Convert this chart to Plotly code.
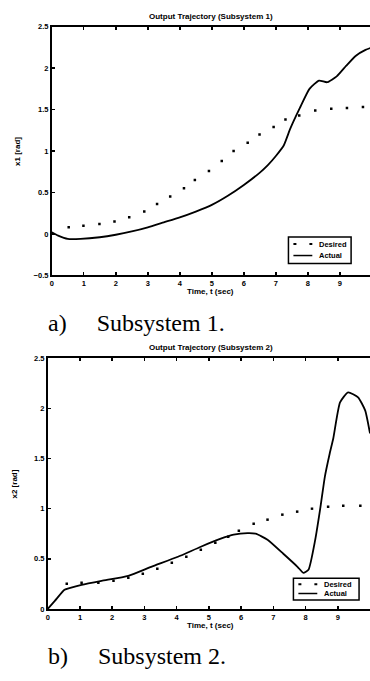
import plotly.graph_objects as go

# ---------------- data ----------------
t1_desired = [0.53, 0.99, 1.49, 1.96, 2.42, 2.89, 3.29, 3.70, 4.13, 4.47, 4.91, 5.31,
              5.68, 6.12, 6.49, 6.93, 7.30, 7.73, 8.23, 8.73, 9.22, 9.72]
x1_desired = [0.08, 0.10, 0.12, 0.15, 0.20, 0.27, 0.36, 0.45, 0.55, 0.65, 0.76, 0.88,
              1.00, 1.10, 1.20, 1.29, 1.38, 1.43, 1.49, 1.51, 1.52, 1.53]

t1_actual = [0, 0.2, 0.5, 0.9, 1.5, 2.0, 2.5, 3.0, 3.5, 4.0, 4.5, 5.0, 5.5, 6.0, 6.5,
             6.75, 7.0, 7.25, 7.45, 7.75, 8.05, 8.35, 8.6, 8.9, 9.2, 9.5, 9.8, 10]
x1_actual = [0.02, -0.02, -0.06, -0.06, -0.04, -0.01, 0.03, 0.08, 0.14, 0.20, 0.27, 0.35,
             0.46, 0.59, 0.74, 0.83, 0.94, 1.07, 1.27, 1.52, 1.75, 1.85, 1.83, 1.90, 2.03,
             2.15, 2.22, 2.25]

t2_desired = [0.59, 1.05, 1.57, 2.04, 2.50, 2.95, 3.40, 3.85, 4.30, 4.75, 5.20, 5.60,
              5.93, 6.39, 6.82, 7.28, 7.74, 8.20, 8.70, 9.17, 9.70]
x2_desired = [0.25, 0.26, 0.26, 0.28, 0.31, 0.35, 0.40, 0.46, 0.52, 0.59, 0.66, 0.72,
              0.78, 0.85, 0.89, 0.94, 0.97, 1.00, 1.02, 1.03, 1.03]

t2_actual = [0, 0.22, 0.52, 0.7, 1.05, 1.67, 2.5, 3.21, 4.04, 4.75, 5.37, 5.77, 6.2, 6.45,
             6.82, 7.31, 7.75, 7.93, 8.09, 8.3, 8.46, 8.6, 8.75, 8.86, 9.07, 9.32, 9.63,
             9.85, 10]
x2_actual = [0, 0.08, 0.19, 0.21, 0.24, 0.28, 0.33, 0.42, 0.52, 0.62, 0.70, 0.74, 0.755,
             0.75, 0.69, 0.55, 0.42, 0.36, 0.39, 0.69, 1.01, 1.32, 1.55, 1.70, 2.06, 2.16,
             2.11, 1.98, 1.75]

x_ticks = [0, 1, 2, 3, 4, 5, 6, 7, 8, 9, 10]
y1_ticks = [-0.5, 0, 0.5, 1, 1.5, 2, 2.5]
y2_ticks = [0, 0.5, 1, 1.5, 2, 2.5]

titles = ["Output Trajectory (Subsystem 1)", "Output Trajectory (Subsystem 2)"]
ylabels = ["x1 [rad]", "x2 [rad]"]
xlabel = "Time, t (sec)"
series_names = ["Desired", "Actual"]
captions = ["a)&nbsp;&nbsp;&nbsp;&nbsp;&nbsp;Subsystem 1.",
            "b)&nbsp;&nbsp;&nbsp;&nbsp;&nbsp;Subsystem 2."]

# ---------------- figure ----------------
W, H = 370, 681
def fx(p):
    return p / W
def fy(p):
    return 1 - p / H

tickfont = dict(family="Liberation Sans, Arial, sans-serif", size=7.5, color="black", weight="bold")
labfont = dict(family="Liberation Sans, Arial, sans-serif", size=8, color="black", weight="bold")

fig = go.Figure()
fig.add_trace(go.Scatter(x=t1_desired, y=x1_desired, mode="markers", name=series_names[0],
                         marker=dict(symbol="square", size=2.5, color="black"),
                         xaxis="x", yaxis="y", showlegend=False))
fig.add_trace(go.Scatter(x=t1_actual, y=x1_actual, mode="lines", name=series_names[1],
                         line=dict(color="black", width=1.8, shape="spline", smoothing=0.5),
                         xaxis="x", yaxis="y", showlegend=False))
fig.add_trace(go.Scatter(x=t2_desired, y=x2_desired, mode="markers", name=series_names[0],
                         marker=dict(symbol="square", size=2.5, color="black"),
                         xaxis="x2", yaxis="y2", showlegend=False))
fig.add_trace(go.Scatter(x=t2_actual, y=x2_actual, mode="lines", name=series_names[1],
                         line=dict(color="black", width=1.8, shape="spline", smoothing=0.5),
                         xaxis="x2", yaxis="y2", showlegend=False))

axis_common = dict(showline=True, linewidth=1.8, linecolor="black", ticks="inside",
                   ticklen=3, tickwidth=1.5, tickcolor="black", showgrid=False,
                   zeroline=False, tickfont=tickfont, fixedrange=True)

fig.update_layout(
    width=W, height=H, margin=dict(l=0, r=0, t=0, b=0),
    paper_bgcolor="white", plot_bgcolor="white", showlegend=False,
    xaxis=dict(domain=[fx(50), 1], range=[0, 9.94], tickvals=x_ticks, anchor="y",
               mirror="ticks", **axis_common),
    yaxis=dict(domain=[fy(275), fy(23)], range=[-0.5, 2.5], tickvals=y1_ticks, anchor="x",
               **axis_common),
    xaxis2=dict(domain=[fx(46), 1], range=[0, 10], tickvals=x_ticks, anchor="y2",
                mirror="ticks", **axis_common),
    yaxis2=dict(domain=[fy(613), fy(359)], range=[0, 2.5], tickvals=y2_ticks, anchor="x2",
                **axis_common),
)

ann = []
shapes = []
for ttl, yp in zip(titles, [13, 348]):
    ann.append(dict(text=ttl, x=fx(210), y=fy(yp), xref="paper", yref="paper",
                    showarrow=False, font=labfont, xanchor="center", yanchor="middle"))
for lab, xp, yp in zip(ylabels, [15, 13], [149, 486]):
    ann.append(dict(text=lab, x=fx(xp), y=fy(yp), xref="paper", yref="paper", textangle=-90,
                    showarrow=False, font=labfont, xanchor="center", yanchor="middle"))
for yp in [291, 630]:
    ann.append(dict(text=xlabel, x=fx(210), y=fy(yp), xref="paper", yref="paper",
                    showarrow=False, font=labfont, xanchor="center", yanchor="middle"))
for cap, yp in zip(captions, [323, 661]):
    ann.append(dict(text=cap, x=fx(44), y=fy(yp), xref="paper", yref="paper",
                    showarrow=False, xanchor="left", yanchor="middle",
                    font=dict(family="Liberation Serif, Times New Roman, serif", size=24,
                              color="black")))

# legend boxes (drawn as layout decorations: box, key samples and labels)
for (x0, y0, x1, y1) in [(288, 236, 351, 263), (293, 582, 359, 604)]:
    shapes.append(dict(type="rect", xref="paper", yref="paper",
                       x0=fx(x0), x1=fx(x1), y0=fy(y1), y1=fy(y0),
                       line=dict(color="black", width=1.5), fillcolor="white", layer="above"))
    rows = [y0 + (y1 - y0) * 0.27, y0 + (y1 - y0) * 0.7]
    kx0 = x0 + 5
    shapes.append(dict(type="line", xref="paper", yref="paper", x0=fx(kx0), x1=fx(kx0 + 19),
                       y0=fy(rows[0]), y1=fy(rows[0]),
                       line=dict(color="black", width=2, dash="3px,13px"), layer="above"))
    shapes.append(dict(type="line", xref="paper", yref="paper", x0=fx(kx0), x1=fx(kx0 + 19),
                       y0=fy(rows[1]), y1=fy(rows[1]),
                       line=dict(color="black", width=1.5), layer="above"))
    for nm, ry in zip(series_names, rows):
        ann.append(dict(text=nm, x=fx(kx0 + 24), y=fy(ry), xref="paper", yref="paper",
                        showarrow=False, xanchor="left", yanchor="middle", font=tickfont))

fig.update_layout(annotations=ann, shapes=shapes)

# remove the browser's default page margin so the figure sits at the window origin
fig.write_html("out.html",
               config={"displayModeBar": False, "staticPlot": True},
               post_script="document.body.style.margin='0';document.body.style.overflow='hidden';")
